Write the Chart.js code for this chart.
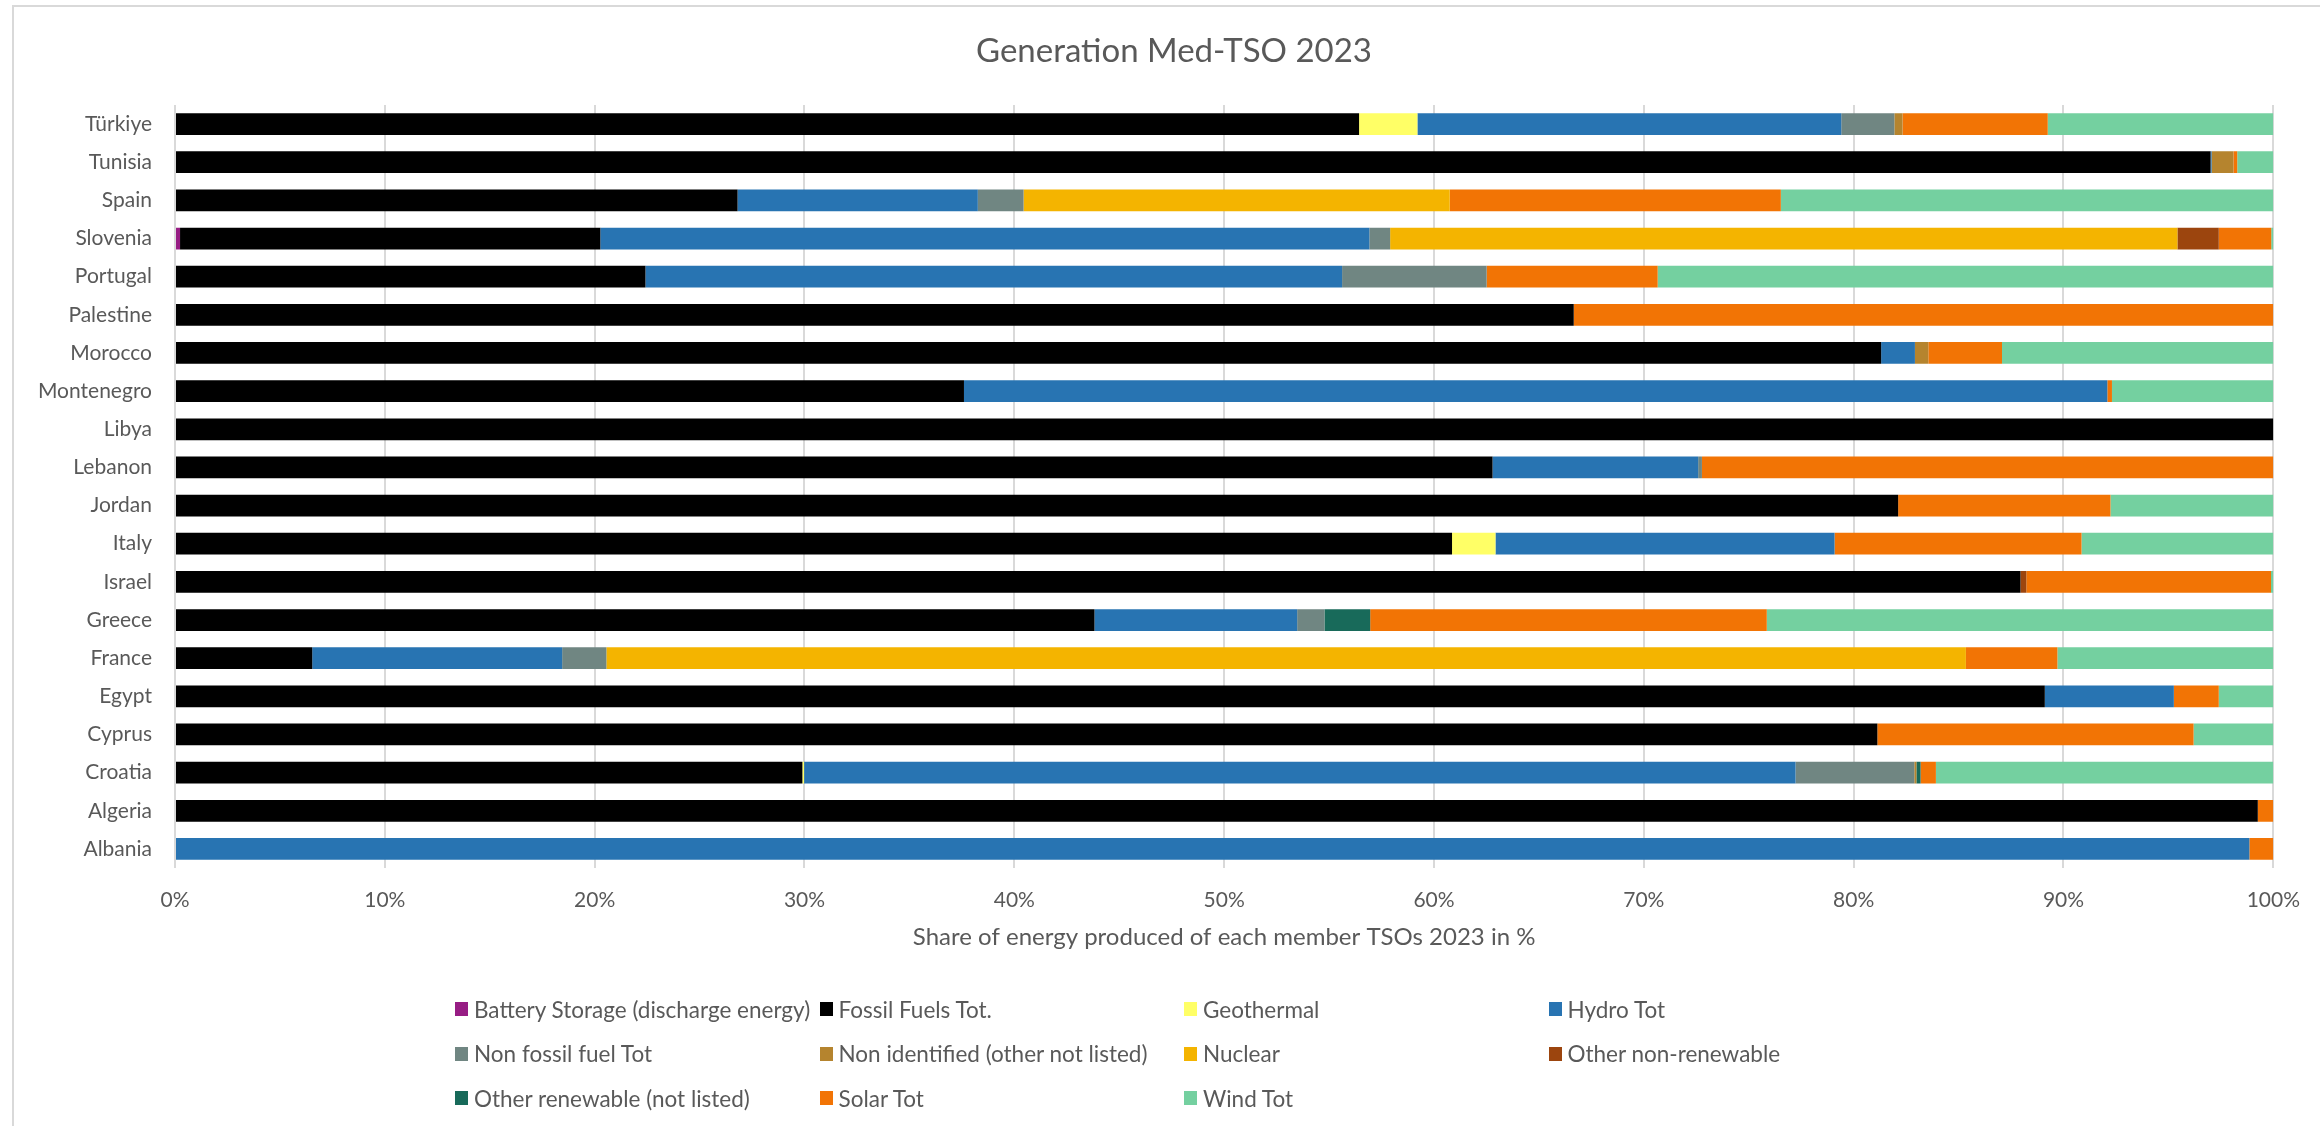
<!DOCTYPE html>
<html>
<head>
<meta charset="utf-8">
<title>Generation Med-TSO 2023</title>
<script src="https://cdn.jsdelivr.net/npm/chart.js@4.4.1/dist/chart.umd.min.js"></script>
<style>
    html, body { margin: 0; padding: 0; background: #fff; }
    #wrap { position: relative; width: 2320px; height: 1126px; overflow: hidden; }
    #frame { position: absolute; left: 12px; top: 5px; width: 2330px; height: 1140px; border: 2px solid #d9d9d9; box-sizing: border-box; }
    #chart { position: absolute; left: 0; top: 0; }
    #legend { position: absolute; left: 455px; top: 996px; display: grid; grid-template-columns: repeat(4, 364.5px); grid-auto-rows: 44.5px; font-family: Lato, sans-serif; font-size: 22.5px; color: #595959; }
    .item { display: flex; align-items: center; height: 26px; white-space: nowrap; }
    .box { width: 13px; height: 14px; margin-right: 6px; flex: none; }
</style>
</head>
<body>
<div id="wrap">
    <div id="frame"></div>
    <canvas id="chart" width="2320" height="1126"></canvas>
    <div id="legend"></div>
</div>
<script>
// member TSOs, top to bottom
const countries = ['Türkiye', 'Tunisia', 'Spain', 'Slovenia', 'Portugal', 'Palestine', 'Morocco', 'Montenegro', 'Libya', 'Lebanon',
    'Jordan', 'Italy', 'Israel', 'Greece', 'France', 'Egypt', 'Cyprus', 'Croatia', 'Algeria', 'Albania'];

// share of generation in %, same order as countries
const battery       = [0, 0, 0, 0.24, 0, 0, 0, 0, 0, 0, 0, 0, 0, 0, 0, 0, 0, 0, 0, 0];
const fossil        = [56.43, 97.01, 26.81, 20.03, 22.42, 66.66, 81.31, 37.60, 100, 62.79, 82.12, 60.86, 87.95, 43.82, 6.54, 89.11, 81.13, 29.90, 99.26, 0];
const geothermal    = [2.78, 0, 0, 0, 0, 0, 0, 0, 0, 0, 0, 2.07, 0, 0, 0, 0, 0, 0.08, 0, 0];
const hydro         = [20.20, 0.05, 11.45, 36.65, 33.20, 0, 1.61, 54.49, 0, 9.80, 0, 16.16, 0, 9.66, 11.91, 6.15, 0, 47.25, 0, 98.86];
const nonFossil     = [2.53, 0, 2.18, 0.99, 6.89, 0, 0, 0, 0, 0.18, 0, 0, 0, 1.30, 2.11, 0, 0, 5.66, 0, 0];
const nonIdentified = [0.39, 1.04, 0, 0, 0, 0, 0.64, 0, 0, 0, 0, 0, 0, 0, 0, 0, 0, 0.10, 0, 0];
const nuclear       = [0, 0, 20.31, 37.52, 0, 0, 0, 0, 0, 0, 0, 0, 0, 0, 64.79, 0, 0, 0, 0, 0];
const otherNonRen   = [0, 0, 0, 1.97, 0, 0, 0, 0, 0, 0, 0, 0, 0.28, 0, 0, 0, 0, 0, 0, 0];
const otherRen      = [0, 0, 0, 0, 0, 0, 0, 0, 0, 0, 0, 0, 0, 2.18, 0, 0, 0, 0.20, 0, 0];
const solar         = [6.92, 0.18, 15.78, 2.50, 8.15, 33.34, 3.51, 0.22, 0, 27.23, 10.12, 11.77, 11.66, 18.90, 4.36, 2.14, 15.07, 0.73, 0.74, 1.14];
const wind          = [10.75, 1.72, 23.47, 0.10, 29.34, 0, 12.93, 7.69, 0, 0, 7.76, 9.14, 0.11, 24.14, 10.29, 2.60, 3.80, 16.08, 0, 0];

const xTicks = [0, 10, 20, 30, 40, 50, 60, 70, 80, 90, 100];

const series = [
    { label: 'Battery Storage (discharge energy)', data: battery, color: '#971d84' },
    { label: 'Fossil Fuels Tot.', data: fossil, color: '#000000' },
    { label: 'Geothermal', data: geothermal, color: '#ffff66' },
    { label: 'Hydro Tot', data: hydro, color: '#2874b2' },
    { label: 'Non fossil fuel Tot', data: nonFossil, color: '#708682' },
    { label: 'Non identified (other not listed)', data: nonIdentified, color: '#b5842e' },
    { label: 'Nuclear', data: nuclear, color: '#f4b400' },
    { label: 'Other non-renewable', data: otherNonRen, color: '#9c450e' },
    { label: 'Other renewable (not listed)', data: otherRen, color: '#186a5a' },
    { label: 'Solar Tot', data: solar, color: '#f27405' },
    { label: 'Wind Tot', data: wind, color: '#74d0a0' }
];

const textColor = '#595959';
const fontFamily = 'Lato, sans-serif';

// the original title sits a bit right of the layout centre
const shiftTitle = {
    id: 'shiftTitle',
    afterLayout(chart) {
        if (chart.titleBlock) {
            chart.titleBlock.left += 23.5;
            chart.titleBlock.right += 23.5;
        }
    }
};

const ctx = document.getElementById('chart').getContext('2d');
const chart = new Chart(ctx, {
    type: 'bar',
    data: {
        labels: countries,
        datasets: series.map(s => ({
            label: s.label,
            data: s.data,
            backgroundColor: s.color,
            borderWidth: 0,
            categoryPercentage: 1,
            barPercentage: 0.571
        }))
    },
    plugins: [shiftTitle],
    options: {
        indexAxis: 'y',
        responsive: false,
        animation: false,
        devicePixelRatio: 1,
        layout: { padding: { left: 20, right: 39, top: 0, bottom: 158 } },
        plugins: {
            legend: { display: false },
            tooltip: { enabled: false },
            title: {
                display: true,
                text: 'Generation Med-TSO 2023',
                color: textColor,
                font: { family: fontFamily, size: 33, weight: 'normal' },
                padding: { top: 32, bottom: 33.4 }
            }
        },
        scales: {
            x: {
                stacked: true,
                min: 0,
                max: 100,
                afterFit: scale => { scale.height = 100; },
                afterBuildTicks: scale => { scale.ticks = xTicks.map(v => ({ value: v })); },
                grid: { color: '#d9d9d9', lineWidth: 2, drawTicks: false },
                border: { display: false },
                ticks: {
                    color: textColor,
                    font: { family: fontFamily, size: 21 },
                    padding: 20,
                    callback: v => v + '%'
                },
                title: {
                    display: true,
                    text: 'Share of energy produced of each member TSOs 2023 in %',
                    color: textColor,
                    font: { family: fontFamily, size: 24 },
                    padding: { top: 0, bottom: 16 }
                }
            },
            y: {
                stacked: true,
                afterFit: scale => { scale.width = 155; },
                grid: { display: false, drawTicks: false },
                border: { display: false },
                ticks: {
                    color: textColor,
                    font: { family: fontFamily, size: 21 },
                    padding: 23
                }
            }
        }
    }
});

// legend laid out as a 4 column grid like the original
const legendEl = document.getElementById('legend');
chart.data.datasets.forEach(ds => {
    const item = document.createElement('div');
    item.className = 'item';
    const box = document.createElement('span');
    box.className = 'box';
    box.style.background = ds.backgroundColor;
    const txt = document.createElement('span');
    txt.textContent = ds.label;
    item.appendChild(box);
    item.appendChild(txt);
    legendEl.appendChild(item);
});
</script>
</body>
</html>
